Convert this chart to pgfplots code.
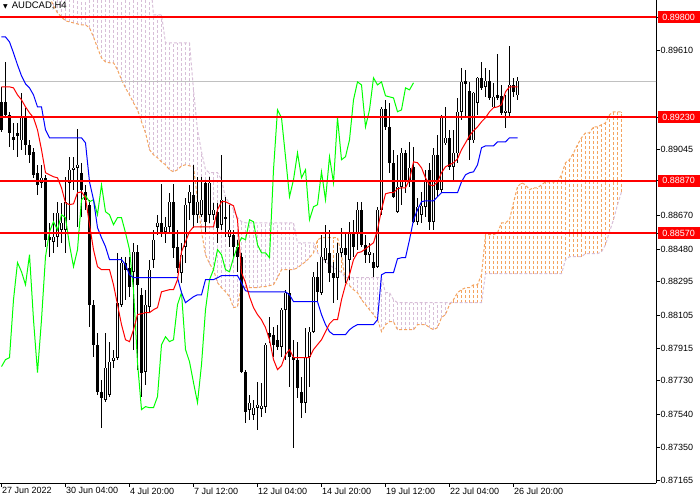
\documentclass[border=0pt]{standalone}
\usepackage{pgfplots}
\pgfplotsset{compat=1.18}
\usepackage{pgfplotstable}
\usepackage{fontspec}
\setmainfont{Liberation Sans}
\newfontfamily\symfont{DejaVu Sans}

\definecolor{kumoup}{RGB}{244,164,96}
\definecolor{kumodn}{RGB}{216,191,216}
\definecolor{chikou}{RGB}{0,255,0}
\definecolor{pricegray}{RGB}{192,192,192}

% AUDCAD H4 candles, bar index i
\pgfplotstableread{
i O H L C
0 0.89319 0.89404 0.89148 0.89159
1 0.89319 0.89546 0.89228 0.89245
2 0.89245 0.89262 0.89063 0.89142
3 0.89120 0.89199 0.89046 0.89102
4 0.89142 0.89199 0.89006 0.89125
5 0.89102 0.89370 0.89046 0.89233
6 0.89233 0.89285 0.89017 0.89074
7 0.89074 0.89102 0.88972 0.89017
8 0.89034 0.89057 0.88886 0.88903
9 0.88915 0.88960 0.88789 0.88846
10 0.88858 0.88960 0.88829 0.88886
11 0.88886 0.88903 0.88494 0.88533
12 0.88550 0.88630 0.88437 0.88533
13 0.88522 0.88687 0.88459 0.88550
14 0.88550 0.88750 0.88494 0.88687
15 0.88590 0.88744 0.88516 0.88630
16 0.88590 0.88892 0.88459 0.88750
17 0.88858 0.89006 0.88647 0.88932
18 0.88932 0.89006 0.88818 0.88943
19 0.88943 0.89165 0.88607 0.88960
20 0.88915 0.88972 0.88664 0.88818
21 0.88806 0.88846 0.88704 0.88761
22 0.88733 0.88761 0.88038 0.88164
23 0.88164 0.88192 0.87868 0.87936
24 0.87936 0.88004 0.87651 0.87669
25 0.87669 0.87737 0.87464 0.87634
26 0.87623 0.88004 0.87612 0.87805
27 0.87651 0.87953 0.87640 0.87839
28 0.87845 0.87908 0.87805 0.87862
29 0.87862 0.88459 0.87851 0.88175
30 0.88164 0.88437 0.88152 0.88403
31 0.88403 0.88437 0.88192 0.88363
32 0.88374 0.88437 0.88209 0.88266
33 0.88351 0.88516 0.87908 0.88465
34 0.88465 0.88505 0.87794 0.88277
35 0.88220 0.88260 0.87640 0.87777
36 0.87782 0.88249 0.87708 0.88164
37 0.88152 0.88420 0.88124 0.88363
38 0.88420 0.88590 0.88374 0.88533
39 0.88607 0.88676 0.88562 0.88630
40 0.88630 0.88852 0.88550 0.88573
41 0.88579 0.88664 0.88516 0.88607
42 0.88607 0.88801 0.88573 0.88750
43 0.88750 0.88852 0.88431 0.88488
44 0.88494 0.88590 0.88346 0.88374
45 0.88346 0.88516 0.88289 0.88448
46 0.88494 0.88772 0.88403 0.88733
47 0.88744 0.88846 0.88647 0.88806
48 0.88789 0.88960 0.88602 0.88676
49 0.88676 0.88892 0.88630 0.88750
50 0.88676 0.88892 0.88664 0.88761
51 0.88858 0.88875 0.88579 0.88636
52 0.88676 0.88892 0.88630 0.88858
53 0.88676 0.88744 0.88647 0.88704
54 0.88693 0.88744 0.88516 0.88602
55 0.88619 0.89017 0.88590 0.88761
56 0.88664 0.88778 0.88550 0.88653
57 0.88550 0.88733 0.88494 0.88590
58 0.88562 0.88590 0.88437 0.88494
59 0.88494 0.88533 0.88351 0.88437
60 0.88437 0.88459 0.87777 0.87782
61 0.87782 0.87794 0.87492 0.87555
62 0.87566 0.87651 0.87509 0.87606
63 0.87538 0.87623 0.87509 0.87577
64 0.87577 0.87725 0.87452 0.87595
65 0.87572 0.87720 0.87526 0.87589
66 0.87583 0.87947 0.87549 0.87936
67 0.88004 0.88095 0.87947 0.87981
68 0.87993 0.88038 0.87868 0.87936
69 0.87964 0.88050 0.87908 0.87925
70 0.87925 0.88147 0.87868 0.88135
71 0.88135 0.88249 0.87851 0.88232
72 0.88232 0.88363 0.87697 0.87868
73 0.87868 0.87964 0.87350 0.87851
74 0.87851 0.87953 0.87634 0.87691
75 0.87669 0.87754 0.87521 0.87606
76 0.87606 0.88033 0.87549 0.87868
77 0.87868 0.88038 0.87697 0.88010
78 0.88010 0.88351 0.88004 0.88323
79 0.88323 0.88408 0.88181 0.88237
80 0.88232 0.88562 0.88220 0.88437
81 0.88420 0.88619 0.88403 0.88488
82 0.88459 0.88590 0.88294 0.88346
83 0.88346 0.88408 0.88175 0.88317
84 0.88317 0.88516 0.88192 0.88459
85 0.88459 0.88602 0.88437 0.88488
86 0.88488 0.88573 0.88289 0.88448
87 0.88420 0.88636 0.88306 0.88573
88 0.88573 0.88647 0.88437 0.88494
89 0.88573 0.88750 0.88477 0.88704
90 0.88704 0.88750 0.88494 0.88505
91 0.88505 0.88562 0.88403 0.88448
92 0.88448 0.88516 0.88403 0.88465
93 0.88408 0.88459 0.88323 0.88374
94 0.88380 0.88721 0.88374 0.88704
95 0.88704 0.89290 0.88676 0.89279
96 0.89279 0.89330 0.89159 0.89176
97 0.89176 0.89313 0.88915 0.88972
98 0.88972 0.89046 0.88772 0.88778
99 0.88693 0.89017 0.88687 0.88835
100 0.88835 0.89057 0.88733 0.89028
101 0.89028 0.89046 0.88801 0.88863
102 0.88863 0.89091 0.88835 0.88943
103 0.88949 0.89063 0.88630 0.88636
104 0.88636 0.88772 0.88619 0.88721
105 0.88676 0.88806 0.88630 0.88727
106 0.88721 0.88932 0.88664 0.88875
107 0.88932 0.88972 0.88590 0.88636
108 0.88636 0.89057 0.88590 0.89017
109 0.89017 0.89131 0.88778 0.88818
110 0.88818 0.89245 0.88801 0.89228
111 0.89085 0.89290 0.89074 0.89114
112 0.89114 0.89159 0.88932 0.88949
113 0.88949 0.89159 0.88863 0.89028
114 0.89028 0.89341 0.88972 0.89262
115 0.89262 0.89512 0.89216 0.89432
116 0.89438 0.89501 0.89233 0.89421
117 0.89381 0.89432 0.88989 0.89102
118 0.89102 0.89376 0.89085 0.89370
119 0.89313 0.89461 0.89245 0.89455
120 0.89455 0.89546 0.89387 0.89398
121 0.89404 0.89512 0.89347 0.89438
122 0.89438 0.89501 0.89330 0.89341
123 0.89290 0.89427 0.89285 0.89347
124 0.89358 0.89592 0.89330 0.89341
125 0.89353 0.89415 0.89245 0.89256
126 0.89256 0.89358 0.89171 0.89267
127 0.89256 0.89637 0.89233 0.89415
128 0.89415 0.89455 0.89347 0.89376
129 0.89358 0.89461 0.89330 0.89437
}\candles

% Tenkan-sen (red)
\pgfplotstableread{
i y
0 0.89404
2 0.89404
3 0.89398
4 0.89358
5 0.89330
6 0.89290
7 0.89256
8 0.89228
9 0.89159
10 0.89046
11 0.88915
12 0.88903
13 0.88892
14 0.88886
15 0.88829
16 0.88744
17 0.88733
18 0.88738
19 0.88801
20 0.88806
21 0.88772
22 0.88619
23 0.88477
24 0.88380
25 0.88363
27 0.88363
28 0.88277
29 0.88164
30 0.88050
31 0.87964
32 0.87953
33 0.88021
34 0.88107
35 0.88112
36 0.88118
37 0.88118
38 0.88135
39 0.88147
40 0.88237
41 0.88243
42 0.88249
43 0.88249
44 0.88306
45 0.88465
46 0.88522
47 0.88579
48 0.88607
53 0.88607
54 0.88704
55 0.88750
56 0.88750
57 0.88738
58 0.88727
59 0.88647
60 0.88346
61 0.88289
62 0.88209
63 0.88147
64 0.88107
65 0.88078
66 0.88033
67 0.87964
68 0.87851
69 0.87794
70 0.87816
71 0.87879
72 0.87908
73 0.87862
77 0.87862
78 0.87908
79 0.87936
80 0.87964
81 0.88010
82 0.88055
83 0.88078
84 0.88078
85 0.88192
86 0.88277
87 0.88334
88 0.88420
89 0.88459
90 0.88465
91 0.88482
92 0.88499
93 0.88516
94 0.88590
95 0.88704
96 0.88795
97 0.88801
98 0.88801
99 0.88824
100 0.88829
101 0.88829
102 0.88875
103 0.88977
104 0.88972
105 0.88943
106 0.88886
107 0.88846
108 0.88841
109 0.88863
110 0.88915
111 0.88949
112 0.88960
113 0.88972
114 0.88994
115 0.89046
116 0.89085
117 0.89125
118 0.89154
119 0.89176
120 0.89205
121 0.89228
122 0.89262
123 0.89285
124 0.89290
125 0.89302
126 0.89376
127 0.89404
129 0.89404
}\tenkan

% Kijun-sen (blue)
\pgfplotstableread{
i y
0 0.89688
1 0.89688
2 0.89660
3 0.89597
4 0.89529
5 0.89467
6 0.89421
7 0.89398
8 0.89358
9 0.89290
10 0.89290
11 0.89159
12 0.89114
20 0.89114
21 0.89085
22 0.88863
23 0.88761
24 0.88602
25 0.88545
26 0.88494
27 0.88420
30 0.88420
31 0.88391
32 0.88334
33 0.88317
44 0.88317
45 0.88232
46 0.88175
47 0.88192
48 0.88209
49 0.88220
50 0.88220
51 0.88306
53 0.88306
54 0.88317
55 0.88329
59 0.88329
60 0.88289
61 0.88243
62 0.88237
71 0.88237
72 0.88220
73 0.88181
79 0.88181
80 0.88107
81 0.88050
82 0.88010
83 0.87993
86 0.87993
87 0.88021
88 0.88038
89 0.88050
93 0.88050
94 0.88078
95 0.88334
96 0.88346
98 0.88346
99 0.88425
100 0.88431
101 0.88431
102 0.88533
103 0.88647
104 0.88704
105 0.88750
106 0.88755
108 0.88755
109 0.88778
110 0.88801
114 0.88801
115 0.88863
116 0.88903
117 0.88915
118 0.88920
119 0.88960
120 0.89057
121 0.89068
123 0.89068
124 0.89091
126 0.89091
127 0.89114
129 0.89114
}\kijun

% Chikou span (green), shifted 26 bars back
\pgfplotstableread{
i y
0 0.87811
1 0.87851
2 0.87862
3 0.88192
4 0.88403
5 0.88351
6 0.88277
7 0.88448
8 0.88078
9 0.87777
10 0.88078
11 0.88437
12 0.88579
13 0.88636
14 0.88590
15 0.88676
16 0.88659
17 0.88505
18 0.88380
19 0.88477
20 0.88761
21 0.88784
22 0.88750
23 0.88761
24 0.88676
25 0.88846
26 0.88693
27 0.88676
28 0.88619
29 0.88659
30 0.88659
31 0.88573
32 0.88477
33 0.88249
34 0.87834
35 0.87566
36 0.87583
37 0.87577
38 0.87577
39 0.87640
40 0.87936
41 0.87981
42 0.87953
43 0.87964
44 0.88164
45 0.88232
46 0.87908
47 0.87839
48 0.87720
49 0.87606
50 0.87822
51 0.88135
52 0.88306
53 0.88363
54 0.88477
55 0.88448
56 0.88363
57 0.88351
58 0.88431
59 0.88494
60 0.88545
61 0.88533
62 0.88647
63 0.88636
64 0.88505
65 0.88459
66 0.88459
67 0.88431
68 0.88932
69 0.89273
70 0.89228
71 0.89006
72 0.88778
73 0.88875
74 0.89028
75 0.88886
76 0.88932
77 0.88647
78 0.88721
79 0.88733
80 0.88920
81 0.88761
82 0.89006
83 0.88858
84 0.89228
85 0.88989
86 0.89006
87 0.89102
88 0.89330
89 0.89432
90 0.89415
91 0.89176
92 0.89273
93 0.89455
94 0.89415
95 0.89432
96 0.89353
97 0.89347
98 0.89341
99 0.89262
100 0.89273
101 0.89398
102 0.89387
103 0.89427
}\chikou

% Kumo: senkou span A and B, shifted 26 bars ahead
\pgfplotstableread{
i A B
12 0.89916 0.90070
13 0.89865 0.90070
14 0.89825 0.90070
15 0.89802 0.90070
16 0.89780 0.90070
17 0.89774 0.90070
18 0.89768 0.90070
19 0.89762 0.90070
20 0.89757 0.90070
21 0.89757 0.90070
22 0.89740 0.90070
23 0.89688 0.90070
24 0.89626 0.90070
25 0.89569 0.90070
26 0.89546 0.90070
27 0.89541 0.90070
28 0.89541 0.90070
29 0.89501 0.90070
30 0.89444 0.90070
31 0.89398 0.90070
32 0.89358 0.90070
33 0.89313 0.90070
34 0.89273 0.90070
35 0.89205 0.90070
36 0.89142 0.90070
37 0.89046 0.90070
38 0.89017 0.89814
39 0.89000 0.89814
40 0.88977 0.89814
41 0.88960 0.89654
42 0.88932 0.89654
43 0.88920 0.89654
44 0.88932 0.89654
45 0.88954 0.89654
46 0.88960 0.89654
47 0.88954 0.89654
48 0.88949 0.89387
49 0.88761 0.89159
50 0.88579 0.89034
51 0.88448 0.88932
52 0.88397 0.88915
53 0.88363 0.88915
54 0.88289 0.88915
55 0.88260 0.88875
56 0.88237 0.88772
57 0.88209 0.88744
58 0.88147 0.88704
59 0.88152 0.88659
60 0.88277 0.88636
61 0.88260 0.88630
62 0.88260 0.88630
63 0.88260 0.88630
64 0.88260 0.88630
65 0.88266 0.88630
66 0.88266 0.88630
67 0.88272 0.88630
68 0.88277 0.88630
69 0.88317 0.88630
70 0.88363 0.88630
71 0.88363 0.88630
72 0.88363 0.88630
73 0.88363 0.88630
74 0.88374 0.88516
75 0.88391 0.88516
76 0.88408 0.88516
77 0.88431 0.88516
78 0.88459 0.88516
79 0.88533 0.88459
80 0.88545 0.88431
81 0.88545 0.88408
82 0.88545 0.88391
83 0.88545 0.88374
84 0.88545 0.88363
85 0.88448 0.88346
86 0.88289 0.88317
87 0.88272 0.88317
88 0.88249 0.88317
89 0.88232 0.88317
90 0.88192 0.88317
91 0.88164 0.88317
92 0.88135 0.88317
93 0.88107 0.88317
94 0.88078 0.88317
95 0.88010 0.88317
96 0.88050 0.88232
97 0.88067 0.88232
98 0.88067 0.88192
99 0.88021 0.88175
100 0.88021 0.88175
101 0.88021 0.88175
102 0.88021 0.88175
103 0.88021 0.88175
104 0.88050 0.88175
105 0.88050 0.88175
106 0.88050 0.88175
107 0.88033 0.88175
108 0.88021 0.88175
109 0.88033 0.88175
110 0.88090 0.88175
111 0.88107 0.88175
112 0.88164 0.88175
113 0.88192 0.88175
114 0.88232 0.88175
115 0.88249 0.88175
116 0.88260 0.88175
117 0.88260 0.88175
118 0.88277 0.88175
119 0.88277 0.88175
120 0.88334 0.88175
121 0.88562 0.88340
122 0.88562 0.88340
123 0.88562 0.88340
124 0.88573 0.88340
125 0.88630 0.88340
126 0.88630 0.88340
127 0.88647 0.88340
128 0.88744 0.88340
129 0.88835 0.88340
130 0.88858 0.88340
131 0.88846 0.88340
132 0.88818 0.88340
133 0.88829 0.88340
134 0.88829 0.88340
135 0.88846 0.88340
136 0.88863 0.88340
137 0.88863 0.88340
138 0.88863 0.88340
139 0.88863 0.88340
140 0.88903 0.88340
141 0.88972 0.88420
142 0.88989 0.88437
143 0.89028 0.88437
144 0.89074 0.88437
145 0.89114 0.88437
146 0.89142 0.88454
147 0.89142 0.88454
148 0.89176 0.88454
149 0.89176 0.88454
150 0.89188 0.88465
151 0.89199 0.88505
152 0.89245 0.88579
153 0.89262 0.88647
154 0.89262 0.88733
155 0.89262 0.88806
}\kumo

\begin{document}
\begin{tikzpicture}
\begin{axis}[
  at={(0,0)}, anchor=north west,
  scale only axis, width=656pt, height=483pt,
  xmin=-0.375, xmax=163.625, ymin=0.871481, ymax=0.898985,
  axis x line*=bottom, axis y line*=right,
  axis line style={black, line width=0.8pt},
  tick align=outside,
  major tick length=3.5pt,
  tick style={black, line width=0.8pt},
  xtick={0,16,32,48,64,80,96,112,128},
  xticklabels={27 Jun 2022,30 Jun 04:00,4 Jul 20:00,7 Jul 12:00,12 Jul 04:00,14 Jul 20:00,19 Jul 12:00,22 Jul 04:00,26 Jul 20:00},
  x tick label style={font=\fontsize{9}{10}\selectfont, anchor=north west, inner sep=0pt, xshift=0.5pt, yshift=-1pt},
  ytick={0.87165,0.87350,0.87540,0.87730,0.87915,0.88105,0.88295,0.88480,0.88670,0.89045,0.89610},
  scaled y ticks=false,
  y tick label style={font=\fontsize{9}{10}\selectfont, anchor=west, inner sep=0pt, xshift=1pt,
    /pgf/number format/fixed, /pgf/number format/fixed zerofill,
    /pgf/number format/precision=5, /pgf/number format/assume math mode=true},
  extra y ticks={0.8980,0.8923,0.8887,0.8857},
  extra y tick style={y tick label style={fill=red, text=white, minimum width=42pt,
    minimum height=12pt, inner sep=0pt, xshift=-3pt}},
  vseg/.style={mark=none, forget plot},
  hatch/.style={mark=none, forget plot, unbounded coords=jump, line width=1pt, dash pattern=on 3pt off 2pt},
]

% bearish kumo hatching (span B above span A): one dotted stroke per bar
\addplot [hatch, kumodn] coordinates {
(12,0.89916) (12,0.90070) (12,nan) (13,0.89865) (13,0.90070) (13,nan)
(14,0.89825) (14,0.90070) (14,nan) (15,0.89802) (15,0.90070) (15,nan)
(16,0.89780) (16,0.90070) (16,nan) (17,0.89774) (17,0.90070) (17,nan)
(18,0.89768) (18,0.90070) (18,nan) (19,0.89762) (19,0.90070) (19,nan)
(20,0.89757) (20,0.90070) (20,nan) (21,0.89757) (21,0.90070) (21,nan)
(22,0.89740) (22,0.90070) (22,nan) (23,0.89688) (23,0.90070) (23,nan)
(24,0.89626) (24,0.90070) (24,nan) (25,0.89569) (25,0.90070) (25,nan)
(26,0.89546) (26,0.90070) (26,nan) (27,0.89541) (27,0.90070) (27,nan)
(28,0.89541) (28,0.90070) (28,nan) (29,0.89501) (29,0.90070) (29,nan)
(30,0.89444) (30,0.90070) (30,nan) (31,0.89398) (31,0.90070) (31,nan)
(32,0.89358) (32,0.90070) (32,nan) (33,0.89313) (33,0.90070) (33,nan)
(34,0.89273) (34,0.90070) (34,nan) (35,0.89205) (35,0.90070) (35,nan)
(36,0.89142) (36,0.90070) (36,nan) (37,0.89046) (37,0.90070) (37,nan)
(38,0.89017) (38,0.89814) (38,nan) (39,0.89000) (39,0.89814) (39,nan)
(40,0.88977) (40,0.89814) (40,nan) (41,0.88960) (41,0.89654) (41,nan)
(42,0.88932) (42,0.89654) (42,nan) (43,0.88920) (43,0.89654) (43,nan)
(44,0.88932) (44,0.89654) (44,nan) (45,0.88954) (45,0.89654) (45,nan)
(46,0.88960) (46,0.89654) (46,nan) (47,0.88954) (47,0.89654) (47,nan)
(48,0.88949) (48,0.89387) (48,nan) (49,0.88761) (49,0.89159) (49,nan)
(50,0.88579) (50,0.89034) (50,nan) (51,0.88448) (51,0.88932) (51,nan)
(52,0.88397) (52,0.88915) (52,nan) (53,0.88363) (53,0.88915) (53,nan)
(54,0.88289) (54,0.88915) (54,nan) (55,0.88260) (55,0.88875) (55,nan)
(56,0.88237) (56,0.88772) (56,nan) (57,0.88209) (57,0.88744) (57,nan)
(58,0.88147) (58,0.88704) (58,nan) (59,0.88152) (59,0.88659) (59,nan)
(60,0.88277) (60,0.88636) (60,nan) (61,0.88260) (61,0.88630) (61,nan)
(62,0.88260) (62,0.88630) (62,nan) (63,0.88260) (63,0.88630) (63,nan)
(64,0.88260) (64,0.88630) (64,nan) (65,0.88266) (65,0.88630) (65,nan)
(66,0.88266) (66,0.88630) (66,nan) (67,0.88272) (67,0.88630) (67,nan)
(68,0.88277) (68,0.88630) (68,nan) (69,0.88317) (69,0.88630) (69,nan)
(70,0.88363) (70,0.88630) (70,nan) (71,0.88363) (71,0.88630) (71,nan)
(72,0.88363) (72,0.88630) (72,nan) (73,0.88363) (73,0.88630) (73,nan)
(74,0.88374) (74,0.88516) (74,nan) (75,0.88391) (75,0.88516) (75,nan)
(76,0.88408) (76,0.88516) (76,nan) (77,0.88431) (77,0.88516) (77,nan)
(78,0.88459) (78,0.88516) (78,nan)
(86,0.88289) (86,0.88317) (86,nan) (87,0.88272) (87,0.88317) (87,nan)
(88,0.88249) (88,0.88317) (88,nan) (89,0.88232) (89,0.88317) (89,nan)
(90,0.88192) (90,0.88317) (90,nan) (91,0.88164) (91,0.88317) (91,nan)
(92,0.88135) (92,0.88317) (92,nan) (93,0.88107) (93,0.88317) (93,nan)
(94,0.88078) (94,0.88317) (94,nan) (95,0.88010) (95,0.88317) (95,nan)
(96,0.88050) (96,0.88232) (96,nan) (97,0.88067) (97,0.88232) (97,nan)
(98,0.88067) (98,0.88192) (98,nan) (99,0.88021) (99,0.88175) (99,nan)
(100,0.88021) (100,0.88175) (100,nan) (101,0.88021) (101,0.88175) (101,nan)
(102,0.88021) (102,0.88175) (102,nan) (103,0.88021) (103,0.88175) (103,nan)
(104,0.88050) (104,0.88175) (104,nan) (105,0.88050) (105,0.88175) (105,nan)
(106,0.88050) (106,0.88175) (106,nan) (107,0.88033) (107,0.88175) (107,nan)
(108,0.88021) (108,0.88175) (108,nan) (109,0.88033) (109,0.88175) (109,nan)
(110,0.88090) (110,0.88175) (110,nan) (111,0.88107) (111,0.88175) (111,nan)
(112,0.88164) (112,0.88175) (112,nan)
};

% bullish kumo hatching (span A above span B)
\addplot [hatch, kumoup] coordinates {
(79,0.88459) (79,0.88533) (79,nan) (80,0.88431) (80,0.88545) (80,nan)
(81,0.88408) (81,0.88545) (81,nan) (82,0.88391) (82,0.88545) (82,nan)
(83,0.88374) (83,0.88545) (83,nan) (84,0.88363) (84,0.88545) (84,nan)
(85,0.88346) (85,0.88448) (85,nan)
(113,0.88175) (113,0.88192) (113,nan) (114,0.88175) (114,0.88232) (114,nan)
(115,0.88175) (115,0.88249) (115,nan) (116,0.88175) (116,0.88260) (116,nan)
(117,0.88175) (117,0.88260) (117,nan) (118,0.88175) (118,0.88277) (118,nan)
(119,0.88175) (119,0.88277) (119,nan) (120,0.88175) (120,0.88334) (120,nan)
(121,0.88340) (121,0.88562) (121,nan) (122,0.88340) (122,0.88562) (122,nan)
(123,0.88340) (123,0.88562) (123,nan) (124,0.88340) (124,0.88573) (124,nan)
(125,0.88340) (125,0.88630) (125,nan) (126,0.88340) (126,0.88630) (126,nan)
(127,0.88340) (127,0.88647) (127,nan) (128,0.88340) (128,0.88744) (128,nan)
(129,0.88340) (129,0.88835) (129,nan) (130,0.88340) (130,0.88858) (130,nan)
(131,0.88340) (131,0.88846) (131,nan) (132,0.88340) (132,0.88818) (132,nan)
(133,0.88340) (133,0.88829) (133,nan) (134,0.88340) (134,0.88829) (134,nan)
(135,0.88340) (135,0.88846) (135,nan) (136,0.88340) (136,0.88863) (136,nan)
(137,0.88340) (137,0.88863) (137,nan) (138,0.88340) (138,0.88863) (138,nan)
(139,0.88340) (139,0.88863) (139,nan) (140,0.88340) (140,0.88903) (140,nan)
(141,0.88420) (141,0.88972) (141,nan) (142,0.88437) (142,0.88989) (142,nan)
(143,0.88437) (143,0.89028) (143,nan) (144,0.88437) (144,0.89074) (144,nan)
(145,0.88437) (145,0.89114) (145,nan) (146,0.88454) (146,0.89142) (146,nan)
(147,0.88454) (147,0.89142) (147,nan) (148,0.88454) (148,0.89176) (148,nan)
(149,0.88454) (149,0.89176) (149,nan) (150,0.88465) (150,0.89188) (150,nan)
(151,0.88505) (151,0.89199) (151,nan) (152,0.88579) (152,0.89245) (152,nan)
(153,0.88647) (153,0.89262) (153,nan) (154,0.88733) (154,0.89262) (154,nan)
(155,0.88806) (155,0.89262) (155,nan)
};

% span boundaries
\addplot [kumoup, line width=1pt, dash pattern=on 3pt off 2pt] table [x=i, y=A] {\kumo};
\addplot [kumodn, line width=1pt, dash pattern=on 3pt off 2pt] table [x=i, y=B] {\kumo};

% current price line
\addplot [pricegray, line width=1pt] coordinates {(-1,0.89437) (170,0.89437)};

% candles: wicks, bodies, hollow bullish bodies
\addplot [vseg, black, line width=1pt,
  quiver={u=0, v={\thisrow{H}-\thisrow{L}}}] table [x=i, y=L] {\candles};
\addplot [vseg, black, line width=3pt,
  quiver={u=0, v={abs(\thisrow{C}-\thisrow{O})}}]
  table [x=i, y expr={min(\thisrow{O},\thisrow{C})}] {\candles};
\addplot [vseg, white, line width=1pt,
  quiver={u=0, v={max(\thisrow{C}-\thisrow{O}-0.00004,0)}, every arrow/.style={draw=white}}]
  table [x=i, y expr={\thisrow{O}+0.00002}] {\candles};

% ichimoku lines
\addplot [chikou, line width=1pt] table [x=i, y=y] {\chikou};
\addplot [blue, line width=1pt] table [x=i, y=y] {\kijun};
\addplot [red, line width=1pt] table [x=i, y=y] {\tenkan};

% horizontal levels
\addplot [red, line width=2pt] coordinates {(-1,0.8980) (170,0.8980)};
\addplot [red, line width=2pt] coordinates {(-1,0.8923) (170,0.8923)};
\addplot [red, line width=2pt] coordinates {(-1,0.8887) (170,0.8887)};
\addplot [red, line width=2pt] coordinates {(-1,0.8857) (170,0.8857)};

\node [anchor=north west, inner sep=0pt, font=\fontsize{9.5}{10}\selectfont]
  at (rel axis cs:0,1) [xshift=3pt, yshift=-2pt] {{\symfont\fontsize{6}{6}\selectfont ▼}\hspace{4pt}AUDCAD,H4};
\node [anchor=west, fill=black, text=white, minimum width=42pt, minimum height=12pt, inner sep=0pt,
  font=\fontsize{9}{10}\selectfont] at (axis cs:163.625,0.89437) {0.89437};
\end{axis}
\pgfresetboundingbox
\useasboundingbox (0,0) rectangle (700pt,-500pt);
\end{tikzpicture}
\end{document}
